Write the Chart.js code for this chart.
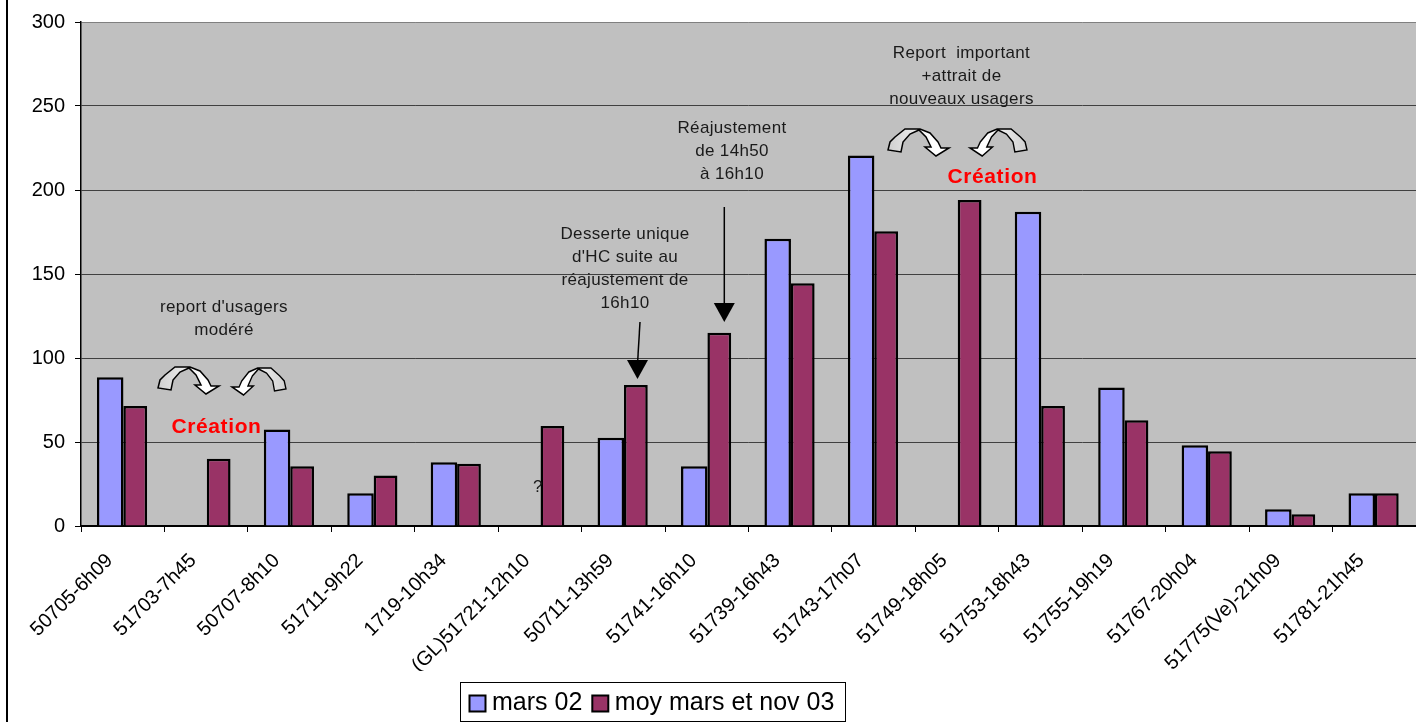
<!DOCTYPE html>
<html>
<head>
<meta charset="utf-8">
<script src="https://cdn.jsdelivr.net/npm/chart.js@4"></script>
<style>
  html, body { margin: 0; padding: 0; background: #fff; }
  #wrap { width: 1416px; height: 722px; position: relative; overflow: hidden; }
  #wrap:before { content: ''; position: absolute; left: 6px; top: 0; bottom: 0; width: 1.5px; background: #000; }
</style>
</head>
<body>
<div id="wrap"><canvas id="chart" width="1416" height="722"></canvas></div>
<script>
// ===== DATOS =====
const categories = ['50705-6h09', '51703-7h45', '50707-8h10', '51711-9h22', '1719-10h34', '(GL)51721-12h10', '50711-13h59', '51741-16h10', '51739-16h43', '51743-17h07', '51749-18h05', '51753-18h43', '51755-19h19', '51767-20h04', '51775(Ve)-21h09', '51781-21h45'];
const mars02 = [88.5, null, 57.5, 19.5, 38, null, 52.5, 35.5, 171, 220.5, null, 187, 82.5, 48, 10, 19.5];
const moyMarsNov03 = [71.5, 40, 35.5, 30, 37, 59.5, 84, 115, 144.5, 175.5, 194, 71.5, 63, 44.5, 7, 19.5];
const yTicks = [0, 50, 100, 150, 200, 250, 300];

const FONT = '"Liberation Sans", Arial, sans-serif';

// ===== ANOTACIONES =====
const notes = [
  { lines: ["report d'usagers", 'modéré'], x: 224, y: 307, lh: 23.5 },
  { lines: ['Desserte unique', "d'HC suite au", 'réajustement de', '16h10'], x: 625, y: 234, lh: 23 },
  { lines: ['Réajustement', 'de 14h50', 'à 16h10'], x: 732, y: 128, lh: 23 },
  { lines: ['Report  important', '+attrait de', 'nouveaux usagers'], x: 961.5, y: 53, lh: 23 }
];
const creations = [{ x: 216.5, y: 427 }, { x: 992.5, y: 177 }];
const bentArrows = [
  { x: 158, y: 367, w: 61, mirror: false },
  { x: 232, y: 368, w: 54, mirror: true },
  { x: 888, y: 129, w: 61, mirror: false },
  { x: 970, y: 129, w: 57, mirror: true }
];
const straightArrows = [
  { x0: 640, y0: 322, x: 637.5, to: 379 },
  { x0: 724.3, y0: 207, x: 724.3, to: 322 }
];
// contorno de la flecha curva, relativo a su esquina
const bentShape = [[0, 21], [2, 13], [7, 8], [17, 0], [32, 0], [42, 4], [50, 13], [53, 19], [61, 19], [48, 27], [37, 18], [43, 18], [38, 8], [31, 1], [22, 5], [15, 13], [13, 23]];

function drawBentArrow(ctx, a) {
  ctx.save();
  if (a.mirror) {
    ctx.translate(a.x + a.w, a.y);
    ctx.scale(-a.w / 61, 1);
  } else {
    ctx.translate(a.x, a.y);
  }
  const grad = ctx.createLinearGradient(0, 0, 45, 0);
  grad.addColorStop(0, '#cfcfcf');
  grad.addColorStop(1, '#ffffff');
  ctx.beginPath();
  bentShape.forEach(function(p, i) {
    if (i === 0) ctx.moveTo(p[0], p[1]); else ctx.lineTo(p[0], p[1]);
  });
  ctx.closePath();
  ctx.fillStyle = grad;
  ctx.fill();
  ctx.strokeStyle = '#000';
  ctx.lineWidth = 1.5;
  ctx.stroke();
  ctx.restore();
}

function drawStraightArrow(ctx, a) {
  ctx.strokeStyle = '#000';
  ctx.fillStyle = '#000';
  ctx.lineWidth = 1.5;
  ctx.beginPath();
  ctx.moveTo(a.x0, a.y0);
  ctx.lineTo(a.x, a.to - 15);
  ctx.stroke();
  ctx.beginPath();
  ctx.moveTo(a.x, a.to);
  ctx.lineTo(a.x - 10.5, a.to - 19);
  ctx.lineTo(a.x + 10.5, a.to - 19);
  ctx.closePath();
  ctx.fill();
}

const plotBackground = {
  id: 'plotBackground',
  beforeDraw: function(chart) {
    const area = chart.chartArea;
    chart.ctx.fillStyle = '#c0c0c0';
    chart.ctx.fillRect(area.left, area.top, area.right - area.left, area.bottom - area.top);
  }
};

// coloca la leyenda y dibuja su marco
const legendBox = {
  id: 'legendBox',
  afterLayout: function(chart) {
    const lg = chart.legend;
    lg.left = 459.5; lg.right = 900; lg.top = 675; lg.bottom = 722;
  },
  beforeDraw: function(chart) {
    const ctx = chart.ctx;
    ctx.strokeStyle = '#000';
    ctx.lineWidth = 1;
    ctx.strokeRect(460.5, 682.5, 385, 39);
  }
};

const annotations = {
  id: 'annotations',
  afterDraw: function(chart) {
    const ctx = chart.ctx;
    ctx.save();
    ctx.textAlign = 'center';
    ctx.textBaseline = 'middle';
    ctx.fillStyle = '#1a1a1a';
    ctx.font = '17px ' + FONT;
    ctx.letterSpacing = '0.35px';
    notes.forEach(function(n) {
      n.lines.forEach(function(line, i) { ctx.fillText(line, n.x, n.y + i * n.lh); });
    });
    ctx.fillText('?', 538, 487);
    ctx.fillStyle = '#ff0000';
    ctx.font = 'bold 21px ' + FONT;
    ctx.letterSpacing = '0.6px';
    creations.forEach(function(c) { ctx.fillText('Création', c.x, c.y); });
    ctx.letterSpacing = '0px';
    bentArrows.forEach(function(a) { drawBentArrow(ctx, a); });
    straightArrows.forEach(function(a) { drawStraightArrow(ctx, a); });
    ctx.restore();
  }
};

// ===== GRÁFICO =====
new Chart(document.getElementById('chart'), {
  type: 'bar',
  data: {
    labels: categories,
    datasets: [
      { label: 'mars 02', data: mars02, backgroundColor: '#9999ff', borderColor: '#000', borderWidth: 2.5, categoryPercentage: 0.6, barPercentage: 1.06 },
      { label: 'moy mars et nov 03', data: moyMarsNov03, backgroundColor: '#993366', borderColor: '#000', borderWidth: 2.5, categoryPercentage: 0.6, barPercentage: 0.95 }
    ]
  },
  options: {
    responsive: false,
    animation: false,
    layout: { padding: { top: 22, left: 0, right: 0, bottom: 0 } },
    plugins: {
      tooltip: { enabled: false },
      legend: {
        position: 'bottom',
        align: 'start',
        labels: {
          color: '#000',
          font: { family: FONT, size: 25 },
          usePointStyle: true,
          pointStyle: 'rect',
          boxWidth: 4,
          boxHeight: 16,
          padding: 16,
          generateLabels: function(chart) {
            return chart.data.datasets.map(function(d, i) {
              return { text: d.label, fillStyle: d.backgroundColor, strokeStyle: '#000', lineWidth: 2, fontColor: '#000', pointStyle: 'rect', datasetIndex: i };
            });
          }
        }
      }
    },
    scales: {
      x: {
        afterFit: function(scale) { scale.height = 196 - scale.chart.legend.height; },
        grid: { drawOnChartArea: false, tickColor: '#000', tickLength: 6, tickWidth: 1 },
        border: { color: '#000', width: 2 },
        ticks: { color: '#000', font: { family: FONT, size: 20 }, minRotation: 45, maxRotation: 45, autoSkip: false, padding: 17, labelOffset: -13 }
      },
      y: {
        min: 0,
        max: 300,
        afterFit: function(scale) { scale.width = 81; },
        afterBuildTicks: function(scale) { scale.ticks = yTicks.map(function(v) { return { value: v }; }); },
        grid: {
          color: function(c) { return c.tick && c.tick.value === 300 ? '#808080' : '#404040'; },
          tickColor: '#000',
          tickLength: 6,
          lineWidth: 1
        },
        border: { color: '#000', width: 1.5 },
        ticks: { color: '#000', font: { family: FONT, size: 20 }, padding: 10 }
      }
    }
  },
  plugins: [plotBackground, legendBox, annotations]
});
</script>
</body>
</html>
